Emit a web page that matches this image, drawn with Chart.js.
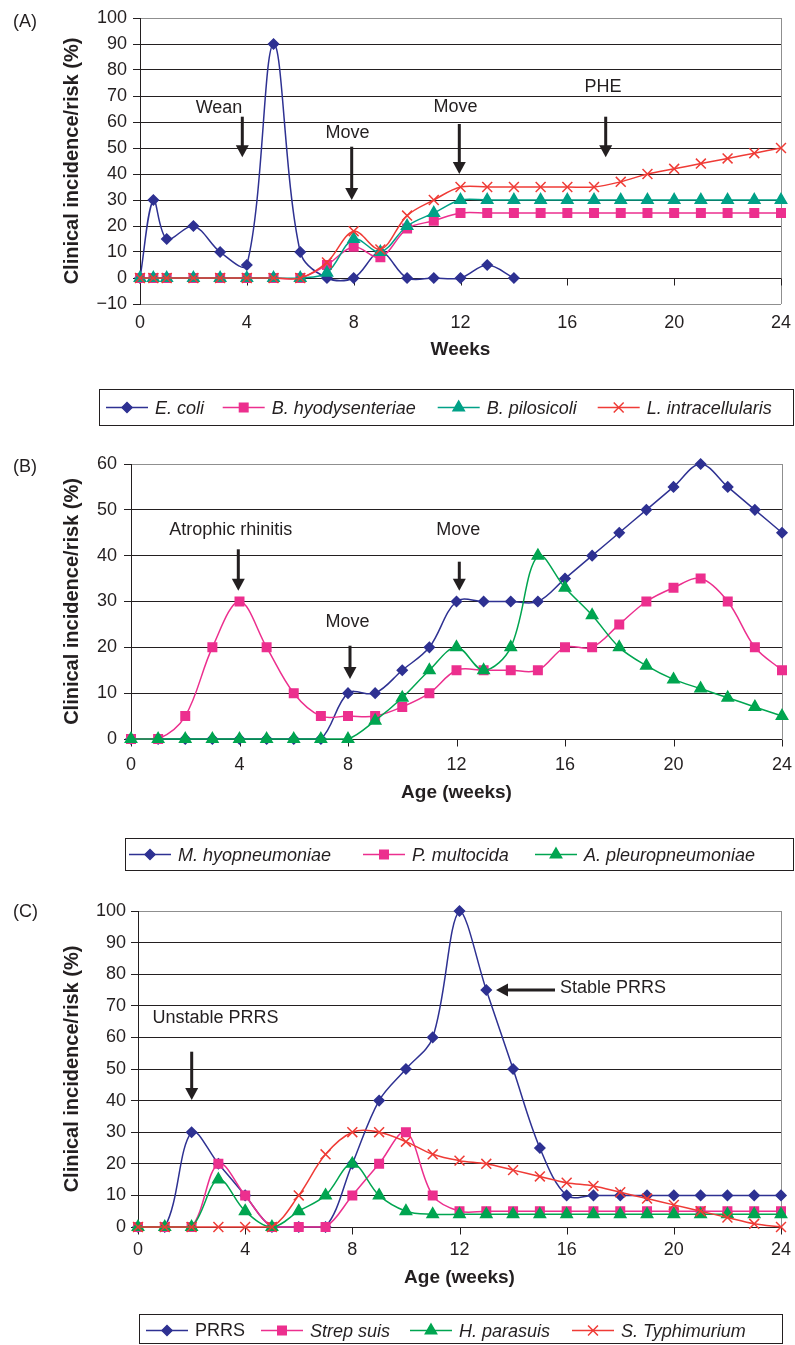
<!DOCTYPE html>
<html><head><meta charset="utf-8">
<script src="https://cdn.jsdelivr.net/npm/chart.js@4.4.1/dist/chart.umd.min.js"></script>
<style>
html,body{margin:0;padding:0;background:#fff;}
body{width:795px;height:1345px;position:relative;overflow:hidden;}
canvas{position:absolute;left:0;}
</style></head><body>
<canvas id="cA" width="795" height="440" style="top:0px;width:795px;height:440px"></canvas>
<canvas id="cB" width="795" height="440" style="top:440px;width:795px;height:440px"></canvas>
<canvas id="cC" width="795" height="465" style="top:880px;width:795px;height:465px"></canvas>
<script>
// ---------- DATA ----------
// Panel A (weeks)
const weeksA = [0,0.5,1,2,3,4,5,6,7,8,9,10,11,12,13,14,15,16,17,18,19,20,21,22,23,24];
const eColi   = [0,30,15,20,10,5,90,10,0,0,10,0,0,0,5,0];
const bHyo    = [0,0,0,0,0,0,0,0,5,12,8,19,22,25,25,25,25,25,25,25,25,25,25,25,25,25];
const bPilo   = [0,0,0,0,0,0,0,0,2,15,10,20,25,30,30,30,30,30,30,30,30,30,30,30,30,30];
const lIntra  = [0,0,0,0,0,0,0,0,6,18,11,24,30,35,35,35,35,35,35,37,40,42,44,46,48,50];
const seriesA = ["E. coli","B. hyodysenteriae","B. pilosicoli","L. intracellularis"];
// Panel B (age, weeks)
const weeksB = [0,1,2,3,4,5,6,7,8,9,10,11,12,13,14,15,16,17,18,19,20,21,22,23,24];
const mHyo   = [0,0,0,0,0,0,0,0,10,10,15,20,30,30,30,30,35,40,45,50,55,60,55,50,45];
const pMult  = [0,0,5,20,30,20,10,5,5,5,7,10,15,15,15,15,20,20,25,30,33,35,30,20,15];
const aPleu  = [0,0,0,0,0,0,0,0,0,4,9,15,20,15,20,40,33,27,20,16,13,11,9,7,5];
const seriesB = ["M. hyopneumoniae","P. multocida","A. pleuropneumoniae"];
// Panel C (age, weeks)
const weeksC = [0,1,2,3,4,5,6,7,8,9,10,11,12,13,14,15,16,17,18,19,20,21,22,23,24];
const prrs   = [0,0,30,20,10,0,0,0,20,40,50,60,100,75,50,25,10,10,10,10,10,10,10,10,10];
const strep  = [0,0,0,20,10,0,0,0,10,20,30,10,5,5,5,5,5,5,5,5,5,5,5,5,5];
const hPara  = [0,0,0,15,5,0,5,10,20,10,5,4,4,4,4,4,4,4,4,4,4,4,4,4,4];
const sTyph  = [0,0,0,0,0,0,10,23,30,30,27,23,21,20,18,16,14,13,11,9,7,5,3,1,0];
const seriesC = ["PRRS","Strep suis","H. parasuis","S. Typhimurium"];
const xTicks = [0,4,8,12,16,20,24];

// ---------- STYLE ----------
const FONT = '"Liberation Sans", Arial, Helvetica, sans-serif';
const TXT = '#231f20';
const NAVY = '#2e3192', PINK = '#ec2f8e', TEAL = '#00a187', GREEN = '#00a550', RED = '#ef3b36';
const MK = {
  rectRot:{pointStyle:'rectRot', pointRadius:5},
  rect:{pointStyle:'rect', pointRadius:6},
  triangle:{pointStyle:'triangle', pointRadius:6.5},
  crossRot:{pointStyle:'crossRot', pointRadius:7}
};

function pts(xs, ys){ return ys.map((v,i)=>({x:xs[i], y:v})); }
function ds(label, xs, ys, color, mk, order){
  return Object.assign({
    label, data: pts(xs, ys), borderColor: color, backgroundColor: color,
    pointBackgroundColor: color, pointBorderColor: color, borderWidth: 1.5,
    pointBorderWidth: 1.5, tension: 0.35, clip: false, order
  }, MK[mk]);
}

function arrowDown(ctx, x, y1, y2){
  ctx.fillStyle = TXT;
  ctx.fillRect(x-1.5, y1, 3, (y2-y1)-11);
  ctx.beginPath(); ctx.moveTo(x-6.5, y2-12); ctx.lineTo(x+6.5, y2-12); ctx.lineTo(x, y2); ctx.closePath(); ctx.fill();
}
function arrowLeft(ctx, xTail, xTip, y){
  ctx.fillStyle = TXT;
  ctx.fillRect(xTip+11, y-1.5, xTail-(xTip+11), 3);
  ctx.beginPath(); ctx.moveTo(xTip+12, y-6.5); ctx.lineTo(xTip+12, y+6.5); ctx.lineTo(xTip, y); ctx.closePath(); ctx.fill();
}
function drawMarker(ctx, style, r, x, y, color){
  ctx.fillStyle = color; ctx.strokeStyle = color; ctx.lineWidth = 1.5;
  if (Chart.helpers && Chart.helpers.drawPoint) {
    Chart.helpers.drawPoint(ctx, {pointStyle: style, radius: r, borderWidth: 1.5, rotation: 0}, x, y);
  }
}

function makePanel(id, spec){
  const H = spec.height;
  const decor = {
    id: 'decor_'+id,
    beforeDatasetsDraw(chart){
      const ctx = chart.ctx, a = chart.chartArea;
      const xs = chart.scales.x, ys = chart.scales.y;
      ctx.save();
      // right border
      ctx.strokeStyle = '#8f8f8f'; ctx.lineWidth = 1;
      ctx.beginPath(); ctx.moveTo(Math.round(a.right)+0.5, a.top); ctx.lineTo(Math.round(a.right)+0.5, a.bottom); ctx.stroke();
      // x tick marks at value 0
      const y0 = Math.round(ys.getPixelForValue(0)) + 0.5;
      ctx.strokeStyle = '#231f20';
      xTicks.forEach(v=>{
        const px = Math.round(xs.getPixelForValue(v)) + 0.5;
        ctx.beginPath(); ctx.moveTo(px, y0); ctx.lineTo(px, y0+7); ctx.stroke();
      });
      ctx.restore();
    },
    afterDraw(chart){
      const ctx = chart.ctx, a = chart.chartArea;
      ctx.save();
      ctx.fillStyle = TXT;
      // panel label
      ctx.font = '18px ' + FONT; ctx.textAlign = 'left'; ctx.textBaseline = 'middle';
      ctx.fillText(spec.panel, 13, spec.panelY);
      // y title
      ctx.save();
      ctx.translate(72.5, (a.top + a.bottom)/2); ctx.rotate(-Math.PI/2);
      ctx.font = 'bold 20px ' + FONT; ctx.textAlign = 'center'; ctx.textBaseline = 'middle';
      ctx.fillText('Clinical incidence/risk (%)', 0, 0);
      ctx.restore();
      // x title
      ctx.font = 'bold 19px ' + FONT; ctx.textAlign = 'center'; ctx.textBaseline = 'middle';
      ctx.fillText(spec.xTitle, (a.left + a.right)/2, spec.xTitleY);
      // annotations
      ctx.font = '18px ' + FONT;
      spec.notes.forEach(n=>{
        ctx.fillStyle = TXT; ctx.textAlign = n.align || 'center'; ctx.textBaseline = 'middle';
        ctx.fillText(n.text, n.x, n.y);
      });
      spec.arrows.forEach(ar=>{
        if (ar.dir === 'left') arrowLeft(ctx, ar.x1, ar.x2, ar.y);
        else arrowDown(ctx, ar.x, ar.y1, ar.y2);
      });
      // legend
      const L = spec.legend;
      ctx.strokeStyle = '#231f20'; ctx.lineWidth = 1;
      ctx.strokeRect(L.box[0]+0.5, L.box[1]+0.5, L.box[2]-L.box[0], L.box[3]-L.box[1]);
      chart.data.datasets.forEach((d, i)=>{
        const tx = L.textX[i], y = L.y;
        ctx.strokeStyle = d.borderColor; ctx.lineWidth = 1.5;
        ctx.beginPath(); ctx.moveTo(tx-49, y); ctx.lineTo(tx-7, y); ctx.stroke();
        drawMarker(ctx, d.pointStyle, d.pointRadius, tx-28, y, d.borderColor);
        ctx.fillStyle = TXT; ctx.textAlign = 'left'; ctx.textBaseline = 'middle';
        ctx.font = (L.upright && L.upright.includes(i) ? '' : 'italic ') + '18px ' + FONT;
        ctx.fillText(d.label, tx, y+1);
      });
      ctx.restore();
    }
  };
  return new Chart(document.getElementById(id), {
    type: 'line',
    data: { datasets: spec.datasets },
    options: {
      responsive: false, animation: false, events: [],
      layout: { padding: { left: 0, top: spec.area.t, right: 795 - spec.area.r, bottom: 0 } },
      plugins: { legend: { display: false }, tooltip: { enabled: false } },
      scales: {
        x: {
          type: 'linear', min: 0, max: 24,
          afterBuildTicks: s => { s.ticks = xTicks.map(v=>({value:v})); },
          ticks: { color: TXT, font: { size: 18, family: FONT }, padding: spec.xPad, maxRotation: 0, autoSkip: false },
          grid: { display: false }, border: { display: false },
          afterFit: s => { s.height = H - spec.area.b; s.paddingLeft = 0; s.paddingRight = 0; }
        },
        y: {
          min: spec.yMin, max: spec.yMax,
          ticks: { stepSize: 10, color: TXT, font: { size: 18, family: FONT }, padding: spec.yPad,
                   callback: v => (v < 0 ? '\u2212' + Math.abs(v) : String(v)) },
          grid: {
            color: c => (c.tick && (c.tick.value === spec.yMax || (spec.yMin < 0 && c.tick.value === spec.yMin))) ? '#8f8f8f' : '#231f20',
            lineWidth: 1, drawTicks: true, tickLength: 7, tickColor: '#231f20'
          },
          border: { display: true, color: '#231f20', width: 1 },
          afterFit: s => { s.width = spec.area.l; s.paddingTop = 0; s.paddingBottom = 0; }
        }
      }
    },
    plugins: [decor]
  });
}

makePanel('cA', {
  height: 440, area: { l: 140, r: 781, t: 18, b: 304 }, yMin: -10, yMax: 100, xPad: 0, yPad: 6,
  panel: '(A)', panelY: 21.7, xTitle: 'Weeks', xTitleY: 350,
  datasets: [
    ds(seriesA[0], weeksA, eColi, NAVY, 'rectRot', 3),
    ds(seriesA[1], weeksA, bHyo, PINK, 'rect', 2),
    ds(seriesA[2], weeksA, bPilo, TEAL, 'triangle', 1),
    ds(seriesA[3], weeksA, lIntra, RED, 'crossRot', 0)
  ],
  notes: [
    { text: 'Wean', x: 219, y: 108 }, { text: 'Move', x: 347.5, y: 133.3 },
    { text: 'Move', x: 455.5, y: 107.5 }, { text: 'PHE', x: 603, y: 87 }
  ],
  arrows: [
    { x: 242.3, y1: 116.7, y2: 157.3 }, { x: 351.7, y1: 146.7, y2: 200 },
    { x: 459.3, y1: 124, y2: 174 }, { x: 605.7, y1: 116.7, y2: 157.3 }
  ],
  legend: { box: [99, 389, 793, 425], y: 407.5, textX: [155, 271.7, 486.7, 646.7] }
});

makePanel('cB', {
  height: 440, area: { l: 131, r: 782, t: 24, b: 299 }, yMin: 0, yMax: 60, xPad: 7, yPad: 7,
  panel: '(B)', panelY: 26.7, xTitle: 'Age (weeks)', xTitleY: 353,
  datasets: [
    ds(seriesB[0], weeksB, mHyo, NAVY, 'rectRot', 2),
    ds(seriesB[1], weeksB, pMult, PINK, 'rect', 1),
    ds(seriesB[2], weeksB, aPleu, GREEN, 'triangle', 0)
  ],
  notes: [
    { text: 'Atrophic rhinitis', x: 230.8, y: 90 }, { text: 'Move', x: 347.5, y: 181.7 },
    { text: 'Move', x: 458.3, y: 90 }
  ],
  arrows: [
    { x: 238.3, y1: 109.3, y2: 150.7 }, { x: 350, y1: 205.7, y2: 239 }, { x: 459.3, y1: 121.7, y2: 150.7 }
  ],
  legend: { box: [125, 398, 793, 430], y: 414.5, textX: [178, 412, 584] }
});

makePanel('cC', {
  height: 465, area: { l: 138, r: 781, t: 31, b: 347 }, yMin: 0, yMax: 100, xPad: 4, yPad: 5,
  panel: '(C)', panelY: 32.5, xTitle: 'Age (weeks)', xTitleY: 398,
  datasets: [
    ds(seriesC[0], weeksC, prrs, NAVY, 'rectRot', 3),
    ds(seriesC[1], weeksC, strep, PINK, 'rect', 2),
    ds(seriesC[2], weeksC, hPara, GREEN, 'triangle', 1),
    ds(seriesC[3], weeksC, sTyph, RED, 'crossRot', 0)
  ],
  notes: [
    { text: 'Unstable PRRS', x: 215.5, y: 138.3 },
    { text: 'Stable PRRS', x: 560, y: 108.3, align: 'left' }
  ],
  arrows: [
    { x: 191.7, y1: 171.7, y2: 220 }, { dir: 'left', x1: 555, x2: 496, y: 110 }
  ],
  legend: { box: [139, 434, 782, 463], y: 450.5, textX: [195, 310, 459, 621], upright: [0] }
});
</script>
</body></html>
